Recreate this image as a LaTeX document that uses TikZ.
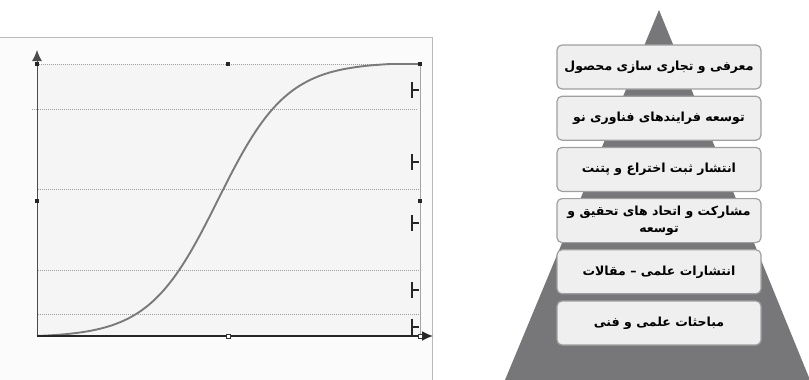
\documentclass[tikz,border=0pt]{standalone}
\usepackage{fontspec}
\usetikzlibrary{positioning,arrows.meta}
\newfontfamily\farsi[Script=Arabic]{DejaVu Sans}
\TeXXeTstate=1
\definecolor{pyrgray}{HTML}{77777A}
\definecolor{boxfill}{HTML}{EFEFEF}
\tikzset{
  stagebox/.style={draw=gray!75,line width=1.2pt,fill=boxfill,rounded corners=5pt,
    minimum width=204pt,minimum height=44pt,align=center,
    font=\farsi\bfseries\fontsize{12.5}{15}\selectfont},
  level/.style={gray!75,line width=0.9pt,dash pattern=on 1pt off 1pt},
  handle/.style={fill=black!85},
  stub/.style={black!85,line width=1.8pt}
}

\begin{document}
\begin{tikzpicture}[x=1pt,y=-1pt]
  \useasboundingbox (0,0) rectangle (809,380);
  % left panel
  \fill[gray!3] (0,37) rectangle (432,380);
  \draw[gray!55,line width=0.8pt] (0,37) -- (432,37) -- (432,380);
  \coordinate (O) at (37,336);
  \coordinate (T) at (37,64);
  \coordinate (R) at (420,336);
  \coordinate (TR) at (420,64);
  \fill[gray!8] (T) rectangle (R);
  \draw[gray!70,line width=0.8pt] (TR) -- (R);
  % levels
  \draw[level] (T) -- (TR);
  \draw[level] (32,109) -- (418,109);
  \foreach \y in {189,270,314}
    \draw[level] (38,\y) -- (420,\y);
  % s-curve
  \draw[black!52,line width=1.9pt]
    plot[domain=37:390,samples=90,smooth] (\x,{336-272*(1/(1+exp(-0.029*(\x-218)))-0.0052)/0.988})
    -- (TR);
  % axes
  \draw[black!70,line width=1pt,-{Latex[length=11pt,width=10pt]}] (O) -- (37,50);
  \draw[black!85,line width=1.8pt,-{Latex[length=11pt,width=10pt]}] (O) -- (433,336);
  % stubs
  \foreach \y in {90,162,223,290,327} {
    \draw[stub] (412,\y-8) -- (412,\y+8);
    \draw[stub] (412,\y) -- (419,\y);
  }
  % handles
  \foreach \p in {(37,64),(228,64),(420,64),(37,201),(420,201)}
    \fill[handle] \p ++(-2,-2) rectangle ++(4,4);
  \foreach \p in {(228,336),(420,336)}
    \filldraw[fill=white,draw=black!80,line width=0.6pt] \p ++(-2,-2) rectangle ++(4,4);
  % pyramid
  \fill[pyrgray] (659,10) -- (810,380) -- (505,380) -- cycle;
  \node[stagebox] (s1) at (659,67) {\beginR معرفی و تجاری سازی محصول\endR};
  \node[stagebox,below=6pt of s1] (s2) {\beginR توسعه فرایندهای فناوری نو\endR};
  \node[stagebox,below=6pt of s2] (s3) {\beginR انتشار ثبت اختراع و پتنت\endR};
  \node[stagebox,below=6pt of s3] (s4) {\beginR مشارکت و اتحاد های تحقیق و\endR\\[2pt]\beginR توسعه\endR};
  \node[stagebox,below=6pt of s4] (s5) {\beginR انتشارات علمی – مقالات\endR};
  \node[stagebox,below=6pt of s5] (s6) {\beginR مباحثات علمی و فنی\endR};
\end{tikzpicture}
\end{document}
